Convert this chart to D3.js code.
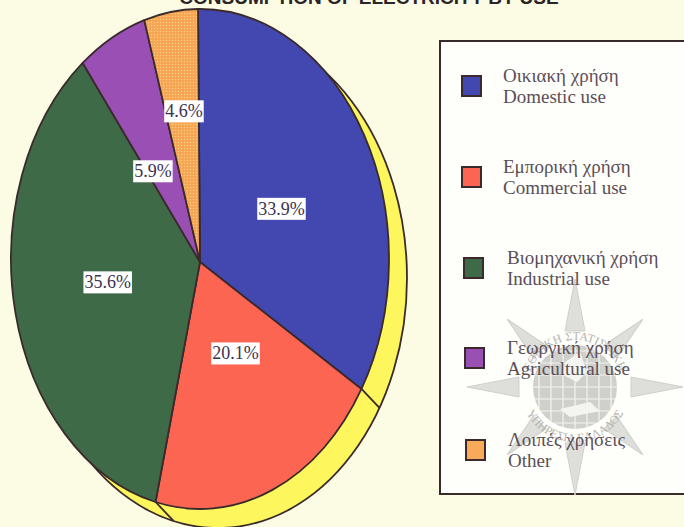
<!DOCTYPE html>
<html><head><meta charset="utf-8">
<script src="https://cdn.jsdelivr.net/npm/d3@7/dist/d3.min.js"></script>
<style>html,body{margin:0;padding:0;background:#fcfce4;overflow:hidden}svg{display:block}text{font-family:"Liberation Serif",serif}</style>
</head><body><svg width="684" height="527"></svg>
<script>
const categoriesEl = ["Οικιακή χρήση","Εμπορική χρήση","Βιομηχανική χρήση","Γεωργική χρήση","Λοιπές χρήσεις"];
const categoriesEn = ["Domestic use","Commercial use","Industrial use","Agricultural use","Other"];
const shares = [33.9,20.1,35.6,5.9,4.6];
const colors = ["#4347b0","#fb6552","#3f6a47","#9a4fb5","#f8a95a"];
const titleText = "CONSUMPTION OF ELECTRICITY BY USE";

const ink="#3a2a2c";
const svg=d3.select("svg");
const defs=svg.append("defs");
const pat=defs.append("pattern").attr("id","dots").attr("width",3).attr("height",3).attr("patternUnits","userSpaceOnUse");
pat.append("rect").attr("width",3).attr("height",3).attr("fill","#f6a552");
pat.append("circle").attr("cx",1.5).attr("cy",1.5).attr("r",.7).attr("fill","#fcd08a");
const fillOf=i=>i===4?"url(#dots)":colors[i];

svg.append("text").attr("x",369).attr("y",4).attr("text-anchor","middle")
  .style("font-family","'Liberation Sans',sans-serif").style("font-weight","bold").style("font-size","19px")
  .attr("fill","#2a2426").text(titleText);

const cx=200,cy=259,rx=189,ry=250,hubY=262,dx=18,dy=19;
const rot=-0.0105;
const pie=d3.pie().sort(null).value(d=>d).startAngle(rot).endAngle(2*Math.PI+rot);
const arcs=pie(shares);
const sx=d3.scaleLinear().domain([-1,1]).range([cx-rx,cx+rx]);
const sy=d3.scaleLinear().domain([-1,1]).range([cy-ry,cy+ry]);
const px=a=>sx(Math.sin(a)), py=a=>sy(-Math.cos(a));
const slicePath=d=>{
  const large=(d.endAngle-d.startAngle)>Math.PI?1:0;
  return `M${cx},${hubY}L${px(d.startAngle)},${py(d.startAngle)}A${rx},${ry} 0 ${large} 1 ${px(d.endAngle)},${py(d.endAngle)}Z`;
};

// extruded edge
svg.append("ellipse").attr("cx",cx+dx).attr("cy",cy+dy).attr("rx",rx).attr("ry",ry)
  .attr("fill","#fdf65c").attr("stroke",ink).attr("stroke-width",1.8);
svg.append("g").selectAll("line").data([arcs[0].endAngle,arcs[1].endAngle]).join("line")
  .attr("x1",px).attr("y1",py).attr("x2",a=>px(a)+dx).attr("y2",a=>py(a)+dy)
  .attr("stroke",ink).attr("stroke-width",1.8);

svg.append("g").selectAll("path").data(arcs).join("path").attr("d",slicePath)
  .attr("fill",(d,i)=>fillOf(i)).attr("stroke",ink).attr("stroke-width",1.8)
  .attr("stroke-linejoin","round");

// value labels
const labelRx=[.496,.49,.50,.535,.55];
const labelRy=[.43,.396,.38,.41,.61];
arcs.forEach((d,i)=>{
  const a=(d.startAngle+d.endAngle)/2;
  const x=cx+Math.sin(a)*labelRx[i]*rx, y=hubY-Math.cos(a)*labelRy[i]*ry;
  const g=svg.append("g").attr("transform",`translate(${x},${y})`);
  const t=g.append("text").attr("text-anchor","middle").attr("y",6).attr("font-size",18)
    .attr("fill","#3b3252").text(shares[i].toFixed(1)+"%");
  const b=t.node().getBBox();
  g.insert("rect","text").attr("x",b.x-1).attr("y",-11).attr("width",b.width+2).attr("height",22).attr("fill","#fff");
});

// legend
svg.append("rect").attr("x",440).attr("y",41).attr("width",260).attr("height",453)
  .attr("fill","#fefefb").attr("stroke",ink).attr("stroke-width",2);

// seal watermark
const seal=svg.append("g").attr("transform","translate(575,387)");
const rays=[0,45,90,135,180,225,270,315];
seal.selectAll("path.ray").data(rays).join("path").attr("class","ray")
  .attr("transform",a=>`rotate(${a})`)
  .attr("d",a=>a%90===0?"M-10,-56 L0,-108 L10,-56 Z":"M-9,-50 L0,-96 L9,-50 Z")
  .attr("fill","#dededa").attr("stroke","#cfcfcb");
seal.append("circle").attr("r",42).attr("fill","#cfcfcb");
const grid=seal.append("g").attr("stroke","#f4f4f0").attr("stroke-width",1.2);
d3.range(-36,37,12).forEach(v=>{
  const h=Math.sqrt(1764-v*v);
  grid.append("line").attr("x1",v).attr("x2",v).attr("y1",-h).attr("y2",h);
  grid.append("line").attr("y1",v).attr("y2",v).attr("x1",-h).attr("x2",h);
});
seal.append("path").attr("d","M-10,-25 L5,-35 L12,-15 L2,-5 L-12,-12 Z M-15,22 L15,15 L25,24 L-5,30 Z").attr("fill","#f4f4f0");
seal.append("path").attr("id","sealArcTop").attr("d","M-47,0 A47,47 0 0,1 47,0").attr("fill","none");
seal.append("path").attr("id","sealArcBot").attr("d","M-55,0 A55,55 0 0,0 55,0").attr("fill","none");
seal.append("text").attr("font-size",12).attr("fill","#b4b4b0").attr("text-anchor","middle").append("textPath")
  .attr("href","#sealArcTop").attr("startOffset","50%").text("ΕΘΝΙΚΗ ΣΤΑΤΙΣΤΙΚΗ");
seal.append("text").attr("font-size",12).attr("fill","#b4b4b0").attr("text-anchor","middle").append("textPath")
  .attr("href","#sealArcBot").attr("startOffset","50%").text("ΥΠΗΡΕΣΙΑ ΕΛΛΑΔΟΣ");

// row positions (pixel layout of the printed legend, which drifts slightly)
const swX=d3.scaleOrdinal().domain(d3.range(5)).range([461,461,463,464,465]);
const swY=d3.scaleOrdinal().domain(d3.range(5)).range([75,166,257,347,439]);
const txX=d3.scaleOrdinal().domain(d3.range(5)).range([503,503,507,507,508]);
const lg=svg.append("g");
categoriesEl.forEach((c,i)=>{
  lg.append("rect").attr("x",swX(i)+1).attr("y",swY(i)+1).attr("width",19).attr("height",20)
    .attr("fill",colors[i]).attr("stroke",ink).attr("stroke-width",2);
  lg.append("text").attr("x",txX(i)).attr("y",swY(i)+7).attr("font-size",19).attr("fill","#5a4f58").text(c);
  lg.append("text").attr("x",txX(i)).attr("y",swY(i)+28).attr("font-size",19).attr("fill","#5a4f58").text(categoriesEn[i]);
});
</script></body></html>
